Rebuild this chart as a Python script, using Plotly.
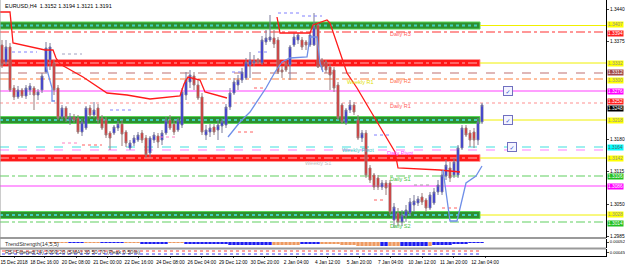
import plotly.graph_objects as go

# ---------------- data ----------------
bars = list(range(121))
opens = [1.3368,1.3334,1.3364,1.3282,1.3264,1.3278,1.3266,1.3278,1.3282,1.3268,
         1.3278,1.3314,1.3338,1.3332,1.3282,1.3224,1.3242,1.3218,1.3224,1.3222,
         1.3194,1.3202,1.3242,1.3228,1.3242,1.3222,1.3218,1.3192,1.3192,1.3202,
         1.3210,1.3194,1.3162,1.3172,1.3178,1.3192,1.3182,1.3152,1.3178,1.3186,
         1.3178,1.3192,1.3218,1.3210,1.3198,1.3208,1.3268,1.3294,1.3306,1.3288,
         1.3264,1.3188,1.3194,1.3204,1.3198,1.3206,1.3208,1.3244,1.3272,1.3288,
         1.3298,1.3302,1.3328,1.3332,1.3338,1.3332,1.3374,1.3378,1.3382,1.3378,
         1.3318,1.3330,1.3328,1.3368,1.3378,1.3378,1.3374,1.3368,1.3368,1.3408,
         1.3338,1.3334,1.3324,1.3318,1.3288,1.3248,1.3212,1.3238,1.3248,1.3218,
         1.3182,1.3192,1.3122,1.3108,1.3102,1.3084,1.3092,1.3092,1.3018,1.3032,
         1.3014,1.3026,1.3032,1.3048,1.3052,1.3064,1.3058,1.3042,1.3052,1.3074,
         1.3074,1.3106,1.3122,1.3108,1.3108,1.3162,1.3202,1.3192,1.3194,1.3178,
         1.3214]
highs = [1.3378,1.3378,1.3372,1.3288,1.3286,1.3282,1.3288,1.3292,1.3286,1.3280,
         1.3312,1.3374,1.3372,1.3338,1.3288,1.3248,1.3246,1.3232,1.3230,1.3228,
         1.3222,1.3246,1.3248,1.3254,1.3250,1.3228,1.3224,1.3196,1.3208,1.3216,
         1.3218,1.3198,1.3178,1.3188,1.3194,1.3198,1.3188,1.3186,1.3194,1.3192,
         1.3198,1.3224,1.3228,1.3218,1.3222,1.3282,1.3314,1.3318,1.3314,1.3298,
         1.3272,1.3208,1.3210,1.3210,1.3218,1.3222,1.3250,1.3282,1.3302,1.3308,
         1.3322,1.3342,1.3354,1.3348,1.3342,1.3386,1.3398,1.3428,1.3398,1.3384,
         1.3326,1.3338,1.3368,1.3392,1.3392,1.3384,1.3378,1.3392,1.3432,1.3414,
         1.3342,1.3338,1.3330,1.3324,1.3294,1.3252,1.3242,1.3258,1.3254,1.3228,
         1.3198,1.3198,1.3128,1.3112,1.3108,1.3098,1.3098,1.3098,1.3052,1.3042,
         1.3038,1.3048,1.3062,1.3068,1.3066,1.3072,1.3062,1.3074,1.3082,1.3098,
         1.3118,1.3138,1.3134,1.3142,1.3168,1.3208,1.3208,1.3198,1.3202,1.3222,
         1.3252]
lows = [1.3322,1.3328,1.3274,1.3258,1.3260,1.3262,1.3260,1.3268,1.3238,1.3258,
        1.3272,1.3310,1.3318,1.3268,1.3218,1.3216,1.3214,1.3208,1.3212,1.3190,
        1.3186,1.3198,1.3222,1.3222,1.3210,1.3198,1.3182,1.3158,1.3188,1.3196,
        1.3166,1.3164,1.3158,1.3166,1.3174,1.3172,1.3142,1.3144,1.3172,1.3162,
        1.3168,1.3188,1.3198,1.3188,1.3194,1.3202,1.3258,1.3282,1.3278,1.3258,
        1.3188,1.3178,1.3184,1.3188,1.3178,1.3192,1.3202,1.3238,1.3268,1.3278,
        1.3292,1.3298,1.3302,1.3326,1.3330,1.3328,1.3368,1.3374,1.3362,1.3310,
        1.3302,1.3314,1.3298,1.3364,1.3370,1.3358,1.3358,1.3364,1.3366,1.3322,
        1.3318,1.3312,1.3278,1.3274,1.3218,1.3210,1.3208,1.3232,1.3228,1.3178,
        1.3174,1.3102,1.3092,1.3078,1.3078,1.3078,1.3068,1.3028,1.3002,1.3006,
        1.3006,1.3014,1.3026,1.3034,1.3046,1.3048,1.3034,1.3038,1.3048,1.3068,
        1.3068,1.3098,1.3094,1.3102,1.3102,1.3158,1.3184,1.3164,1.3162,1.3168,
        1.3210]
closes = [1.3328,1.3364,1.3278,1.3264,1.3278,1.3266,1.3282,1.3286,1.3268,1.3274,
          1.3306,1.3362,1.3364,1.3278,1.3222,1.3242,1.3222,1.3224,1.3218,1.3194,
          1.3214,1.3242,1.3228,1.3238,1.3218,1.3202,1.3188,1.3182,1.3204,1.3210,
          1.3190,1.3172,1.3172,1.3182,1.3188,1.3178,1.3148,1.3182,1.3188,1.3174,
          1.3192,1.3218,1.3202,1.3194,1.3218,1.3274,1.3298,1.3308,1.3288,1.3262,
          1.3194,1.3198,1.3202,1.3194,1.3208,1.3216,1.3244,1.3272,1.3294,1.3298,
          1.3314,1.3334,1.3338,1.3336,1.3334,1.3378,1.3382,1.3384,1.3370,1.3314,
          1.3314,1.3318,1.3364,1.3384,1.3388,1.3364,1.3368,1.3388,1.3404,1.3324,
          1.3324,1.3318,1.3308,1.3282,1.3222,1.3214,1.3238,1.3248,1.3234,1.3182,
          1.3192,1.3108,1.3098,1.3084,1.3084,1.3092,1.3082,1.3034,1.3044,1.3014,
          1.3028,1.3038,1.3054,1.3056,1.3060,1.3054,1.3042,1.3068,1.3074,1.3088,
          1.3108,1.3128,1.3102,1.3134,1.3162,1.3202,1.3188,1.3178,1.3178,1.3214,
          1.3248]

# trailing lines (bar, price vertices)
red_line_a_x = [-0.5, 2, 2.75, 10.75, 12.75, 13.5, 14.5, 20.25, 26.25, 31.25, 37, 44.5, 45.5, 46.5, 49.5, 50.75, 56.25]
red_line_a_y = [1.3434, 1.3434, 1.3372, 1.3358, 1.3358, 1.3342, 1.3330, 1.3304, 1.3272, 1.3268, 1.3260, 1.3266, 1.3290, 1.3304, 1.3298, 1.3274, 1.3262]
red_line_b_x = [68.75, 69.5, 77, 77.75, 81.25, 82, 86.25, 88.75, 92, 95.75, 98.25, 99, 109.5, 114.5]
red_line_b_y = [1.3424, 1.3392, 1.3392, 1.3408, 1.3418, 1.3412, 1.3312, 1.3282, 1.3238, 1.3188, 1.3154, 1.3122, 1.3118, 1.3114]
blue_line_a_x = [11, 12.5, 12.5, 13.25]
blue_line_a_y = [1.3326, 1.3282, 1.3256, 1.3256]
blue_line_b_x = [56.5, 59.5, 62, 64, 65.25, 66, 68.25, 70, 72, 76.25, 77, 78.75, 79.5, 80.25]
blue_line_b_y = [1.3184, 1.3214, 1.3234, 1.3258, 1.3274, 1.3282, 1.3314, 1.3334, 1.3342, 1.3344, 1.3384, 1.3384, 1.3332, 1.3314]
blue_line_c_x = [110.25, 112, 113.75, 116, 118.5, 120]
blue_line_c_y = [1.3118, 1.3016, 1.3016, 1.3092, 1.3106, 1.3126]

# short previous high / low marks
mark_start = [2.5, 15, 57.5, 64, 69, 75, 27, 63, 59, 15, 20, 39.5, 110, 93, 93, 103]
mark_end = [8.75, 20, 60, 67, 74.5, 80, 33, 66, 63, 19, 25, 44, 114.5, 96, 97, 107]
mark_price = [1.3354, 1.3350, 1.3314, 1.3354, 1.3432, 1.3426, 1.3238, 1.3282, 1.3194, 1.3172, 1.3168, 1.3184, 1.3042, 1.3058, 1.3188, 1.3088]
mark_color = ["#8080ff", "#a0a0c0", "#8080ff", "#8080ff", "#8080ff", "#8080ff", "#8080ff", "#ff6060",
              "#ff6060", "#ff80c0", "#ff6060", "#ff80c0", "#ff6060", "#ff6060", "#8080ff", "#a0a0a0"]

# pivot / level lines (full width)
line_price = [1.3394, 1.3312, 1.3300, 1.3276, 1.3252, 1.3164, 1.3158, 1.3106, 1.3086, 1.3014]
line_color = ["#ff3030", "#c07070", "#ff8040", "#ff40ff", "#ff9090", "#40e0e0", "#ff80ff", "#60d060", "#ff40ff", "#60d060"]
line_dash = ["dashdot", "dash", "dashdot", "solid", "dot", "dash", "dash", "dashdot", "solid", "dashdot"]

# supply / demand zones
zone_price = [1.3407, 1.3332, 1.3218, 1.3142, 1.3028]
zone_kind = ["g", "r", "g", "r", "g"]
zone_end = 119.5

# right-axis price labels
lab_price = [1.3407, 1.3394, 1.3332, 1.3312, 1.3300, 1.3276, 1.3252, 1.3248, 1.3218, 1.3164, 1.3142, 1.3106, 1.3086, 1.3028, 1.3014]
lab_bg = ["#ffff00", "#ff2020", "#ffff00", "#a04848", "#ffff00", "#ff00ff", "#ff2020", "#000000",
          "#ffff00", "#00ffff", "#ffff00", "#20c020", "#ff00ff", "#ffff00", "#20c020"]
lab_fg = ["#909090", "#ffffff", "#909090", "#ffffff", "#909090", "#ffffff", "#ffffff", "#ffffff",
          "#909090", "#606060", "#909090", "#ffffff", "#ffffff", "#909090", "#ffffff"]
lab_shift = [1, -1, 0, 1, -1, 0, 2, -3, 0, 0, 0, 0, 0, 1, -1]

# level names
name_text = ["Daily R3", "Daily R2", "Weekly R1", "Daily R1", "Weekly Pivot", "Daily Pivot", "Weekly S1", "Daily S1", "Daily S2"]
name_bar = [99.5, 99.5, 89.5, 99.5, 89, 99.5, 79, 99.5, 99.5]
name_price = [1.3390, 1.3297, 1.3295, 1.3247, 1.3158, 1.3153, 1.3133, 1.3101, 1.3007]
name_color = ["#ff6060", "#ff7050", "#e0e000", "#ff6060", "#40c8c8", "#ff40ff", "#c0c0c0", "#40c040", "#40c040"]

# trend strength histogram
ts_height = [0,0,0,0,0,0,0,0,0,0,0,0,
             1,1,1,1,1, 1,1,1,1, 1,1,1,1, 1,1,1,1,1,1, 1,1,1,1,
             2,2,2,2,2,2,2, 1,1,1,1,
             2,2,2,2,2,2,2,2,2,2,2,
             3,3,3,3,3,3,3,3,3,3,3,
             3,3,3,3,3,3,3, 2,2,2,2,2, 2,2,2,2,2,
             3,3,3,3,4,4,4,4,4,4, 4,4, 4,4,4, 4,4,4,4,4,4,4, 4,
             3,3,3,3,3, 2,2,2,2, 1,1,1,1]
ts_color = ("ooooooooooooooooo" "bbbb" "oooo" "bbbbbb" "oooo" "bbbbbbb" "oooo"
            "bbbbbbbbbbbbbbbbbbbbbb" "ooooooo" "bbbbb" "ooooooooooooooo" "bb" "ooo"
            "bbbbbbb" "o" "bbbbbbbbbbbbb")

rsi_levels = [70, 30]
rsi_colors = ["#ff4040", "#4040ff"]

tick_labels = ["15 Dec 2018", "18 Dec 16:00", "20 Dec 08:00", "21 Dec 00:00", "22 Dec 16:00",
               "24 Dec 08:00", "26 Dec 04:00", "29 Dec 12:00", "30 Dec 20:00", "2 Jan 04:00",
               "4 Jan 12:00", "5 Jan 20:00", "7 Jan 04:00", "10 Jan 12:00", "11 Jan 20:00", "12 Jan 04:00"]
tick_pos = [3.0, 10.6, 18.5, 26.35, 34.2, 42.1, 49.95, 57.8, 65.7, 73.55, 81.4, 89.3, 97.15, 105.0, 112.9, 120.75]
# grid levels whose labels are not hidden behind the coloured price tags
price_ticks = [1.3440, 1.3375, 1.3180, 1.3115, 1.3050, 1.2985]

FONT = "Liberation Sans"

# ---------------- figure ----------------
fig = go.Figure()
shapes = []
annos = []

for p, c, d in zip(line_price, line_color, line_dash):
    shapes.append(dict(type="line", xref="paper", x0=0, x1=1, yref="y", y0=p, y1=p,
                       line=dict(color=c, width=1.2, dash=d), layer="below"))

for p, k in zip(zone_price, zone_kind):
    if k == "g":
        shapes.append(dict(type="rect", xref="x", x0=-0.5, x1=zone_end, yref="y", y0=p - 0.0007, y1=p + 0.0007,
                           fillcolor="#2f8f2f", line=dict(color="#58d858", width=1), layer="below"))
        shapes.append(dict(type="line", xref="x", x0=-0.5, x1=zone_end, yref="y", y0=p, y1=p,
                           line=dict(color="#40d0c0", width=2, dash="dot"), layer="below"))
    else:
        shapes.append(dict(type="rect", xref="x", x0=-0.5, x1=zone_end, yref="y", y0=p - 0.0007, y1=p + 0.0007,
                           fillcolor="#ff1818", line=dict(color="#ff9a9a", width=1), layer="below"))
        shapes.append(dict(type="line", xref="x", x0=-0.5, x1=zone_end, yref="y", y0=p, y1=p,
                           line=dict(color="#ffb0b0", width=1, dash="dashdot"), layer="below"))
    shapes.append(dict(type="line", xref="x", x0=zone_end, x1=151, yref="y", y0=p, y1=p,
                       line=dict(color="#f0f000", width=1), layer="below"))

for s, e, p, c in zip(mark_start, mark_end, mark_price, mark_color):
    fig.add_trace(go.Scatter(x=[s, e], y=[p, p], mode="lines", line=dict(color=c, width=1, dash="dot"),
                             hoverinfo="skip", showlegend=False))

fig.add_trace(go.Candlestick(x=bars, open=opens, high=highs, low=lows, close=closes,
                             increasing=dict(fillcolor="#1010ff", line=dict(color="#7a7a9a", width=1)),
                             decreasing=dict(fillcolor="#ff1010", line=dict(color="#9a7a7a", width=1)),
                             whiskerwidth=0, showlegend=False, hoverinfo="skip"))

for xs, ys, c in [(red_line_a_x, red_line_a_y, "#ff1a1a"), (red_line_b_x, red_line_b_y, "#ff1a1a"),
                  (blue_line_a_x, blue_line_a_y, "#6f8fe8"), (blue_line_b_x, blue_line_b_y, "#6f8fe8"),
                  (blue_line_c_x, blue_line_c_y, "#6f8fe8")]:
    fig.add_trace(go.Scatter(x=xs, y=ys, mode="lines", line=dict(color=c, width=1.3),
                             hoverinfo="skip", showlegend=False))

fig.add_trace(go.Bar(x=bars, y=ts_height, yaxis="y2",
                     marker=dict(color=["#1c1cf0" if c == "b" else "#ee9a60" for c in ts_color], line=dict(width=0)),
                     width=0.85, showlegend=False, hoverinfo="skip"))

for lv, c in zip(rsi_levels, rsi_colors):
    fig.add_trace(go.Scatter(x=[0, 120], y=[lv, lv], yaxis="y3", mode="lines",
                             line=dict(color=c, width=1, dash="dot"), hoverinfo="skip", showlegend=False))

for p, bg, fg, sh in zip(lab_price, lab_bg, lab_fg, lab_shift):
    annos.append(dict(xref="paper", x=1, xanchor="left", xshift=1, yref="y", y=p, yanchor="middle", yshift=sh,
                      text="%.4f" % p, showarrow=False, bgcolor=bg, borderpad=0,
                      font=dict(family=FONT, size=4.8, color=fg)))

for t, b, p, c in zip(name_text, name_bar, name_price, name_color):
    annos.append(dict(xref="x", x=b, yref="y", y=p, text=t, showarrow=False, xanchor="center",
                      yanchor="middle", font=dict(family=FONT, size=5.5, color=c)))

for b, p in [(126.5, 1.3276), (126.5, 1.3218), (127.5, 1.3164)]:
    annos.append(dict(xref="x", x=b, yref="y", y=p, text="✓", showarrow=False,
                      font=dict(family="DejaVu Sans", size=6, color="#3050d0"),
                      bordercolor="#7070c0", borderwidth=1, bgcolor="#f4f4ff", width=8, height=8, borderpad=0))

annos.append(dict(xref="paper", x=0, xanchor="left", xshift=3, yref="paper", y=1, yanchor="top", yshift=-1,
                  text="EURUSD,H4  1.3152 1.3194 1.3121 1.3191", showarrow=False,
                  font=dict(family=FONT, size=5.5, color="#000000")))
annos.append(dict(xref="paper", x=0, xanchor="left", xshift=3, yref="y2", y=1.5, yanchor="middle",
                  text="TrendStrength(14,5,5)", showarrow=False, font=dict(family=FONT, size=5.5, color="#303030")))
annos.append(dict(xref="paper", x=0, xanchor="left", xshift=3, yref="y3", y=60, yanchor="middle",
                  text="RSI Filtered(14) 2009 20 (SMA) 30 50 70 (Peak 0.50%)", showarrow=False,
                  font=dict(family=FONT, size=5.5, color="#303030")))

for yy in [0.0703, 0.0293]:
    shapes.append(dict(type="line", xref="paper", x0=0, x1=1, yref="paper", y0=yy, y1=yy,
                       line=dict(color="#9a9a9a", width=2)))
shapes.append(dict(type="line", xref="paper", x0=0, x1=0, yref="paper", y0=0, y1=1,
                   line=dict(color="#9a9a9a", width=1)))

axis_font = dict(family=FONT, size=4.8, color="#000000")
small_font = dict(family=FONT, size=4.2, color="#000000")
common_y = dict(side="right", anchor="x", automargin=False, showgrid=False, zeroline=False,
                showline=True, linecolor="#000000", ticks="outside", ticklen=2)
fig.update_layout(
    width=625, height=266, margin=dict(l=0, r=19, t=0, b=10, autoexpand=False),
    paper_bgcolor="white", plot_bgcolor="white", showlegend=False, bargap=0.1,
    shapes=shapes, annotations=annos,
    xaxis=dict(domain=[0, 1], range=[-0.5, 151], anchor="y3", tickvals=tick_pos, ticktext=tick_labels,
               tickangle=0, automargin=False, tickfont=axis_font, showgrid=False, zeroline=False,
               ticklabeloverflow="allow",
               showline=True, linecolor="#000000", ticks="outside", ticklen=1, rangeslider=dict(visible=False)),
    yaxis=dict(domain=[0.0703, 1], range=[1.2982, 1.3458], tickvals=price_ticks, tickfont=axis_font,
               ticktext=["%.4f" % v for v in price_ticks], **common_y),
    yaxis2=dict(domain=[0.03125, 0.0664], range=[6, -3], tickvals=[0], ticktext=["0.00052"],
                tickfont=small_font, **common_y),
    yaxis3=dict(domain=[0, 0.0273], range=[3.4, 96.7], tickvals=[50], ticktext=["0.00045"],
                tickfont=small_font, **common_y),
)

fig.write_html("out.html")
